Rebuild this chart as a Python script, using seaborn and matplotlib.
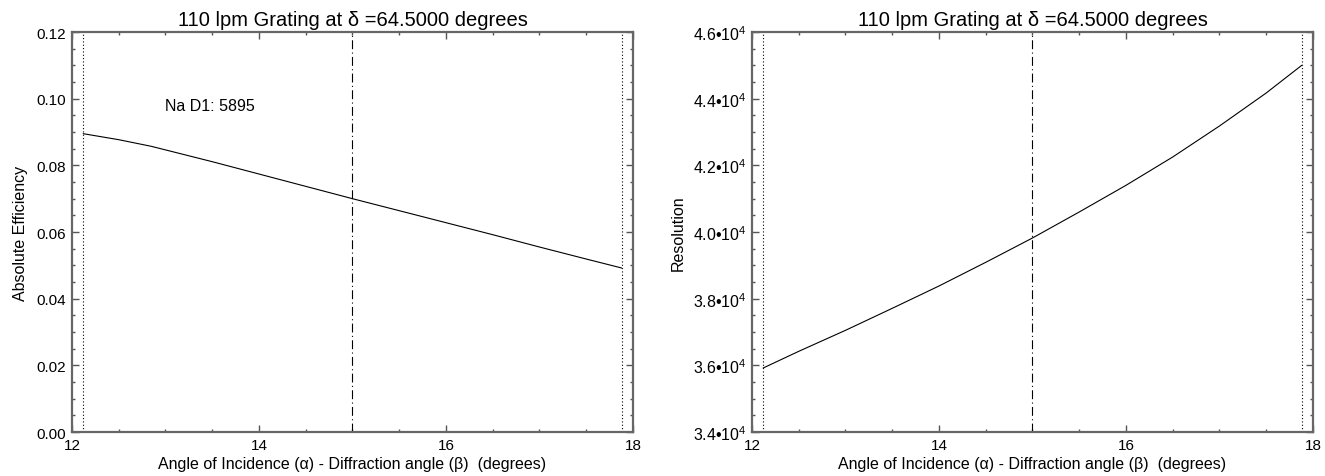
import numpy as np
import pandas as pd
import matplotlib
matplotlib.use("Agg")
import matplotlib.pyplot as plt
import seaborn as sns
from matplotlib.ticker import MultipleLocator, FuncFormatter

# Values
eff_angle = [12.12, 12.5, 12.85, 13.5, 14.0, 14.5, 15.0, 15.5, 16.0, 16.5, 17.0, 17.5, 17.88]
eff_value = [0.0895, 0.0877, 0.0857, 0.0811, 0.0774, 0.0737, 0.0700,
             0.0664, 0.0628, 0.0592, 0.0555, 0.0519, 0.0492]

res_angle = [12.12, 12.5, 13.0, 13.5, 14.0, 14.5, 15.0, 15.5, 16.0, 16.5, 17.0, 17.5, 17.88]
res_value = [35920, 36420, 37050, 37710, 38380, 39090, 39820,
             40600, 41400, 42250, 43180, 44170, 45000]

limit_lines = [12.12, 17.88]
center_line = 15.0
title_text = "110 lpm Grating at δ =64.5000 degrees"
xlabel_text = "Angle of Incidence (α) - Diffraction angle (β)  (degrees)"

eff_df = pd.DataFrame({"angle": eff_angle, "eff": eff_value})
res_df = pd.DataFrame({"angle": res_angle, "res": res_value})

sns.set_style("ticks")
plt.rcParams["font.family"] = ["Liberation Sans", "DejaVu Sans"]
plt.rcParams["mathtext.fontset"] = "custom"
plt.rcParams["mathtext.rm"] = "Liberation Sans"
plt.rcParams["mathtext.it"] = "Liberation Sans"
plt.rcParams["text.color"] = "black"
plt.rcParams["axes.labelcolor"] = "black"

fig = plt.figure(figsize=(13.25, 4.77), dpi=100)
ax1 = fig.add_axes([0.0543, 0.0922, 0.4234, 0.8386])
ax2 = fig.add_axes([0.5675, 0.0922, 0.4234, 0.8386])


def style_axis(ax):
    ax.set_xlim(12, 18)
    ax.xaxis.set_major_locator(MultipleLocator(2))
    ax.xaxis.set_minor_locator(MultipleLocator(0.5))
    ax.tick_params(which="both", direction="in", top=True, right=True,
                   color="#555555", labelsize=11, labelcolor="black")
    ax.tick_params(which="major", length=5, width=1, pad=4)
    ax.tick_params(which="minor", length=2.5, width=1)
    for sp in ax.spines.values():
        sp.set_color("#666666")
        sp.set_linewidth(1.6)
    for x in limit_lines:
        ax.axvline(x, color="black", linestyle=(0, (1, 2)), linewidth=0.8)
    ax.axvline(center_line, color="black", linestyle=(0, (8, 3, 1, 3)), linewidth=0.8)
    ax.set_title(title_text, fontsize=14.5, pad=5, color="black")
    ax.set_xlabel(xlabel_text, fontsize=11.5, labelpad=3, color="black")


# Left: efficiency
sns.lineplot(data=eff_df, x="angle", y="eff", ax=ax1, color="black", linewidth=0.8)
style_axis(ax1)
ax1.set_ylim(0, 0.12)
ax1.yaxis.set_major_locator(MultipleLocator(0.02))
ax1.yaxis.set_minor_locator(MultipleLocator(0.005))
ax1.yaxis.set_major_formatter(FuncFormatter(lambda v, p: f"{v:.2f}"))
ax1.set_ylabel("Absolute Efficiency", fontsize=11.5, labelpad=6, color="black")
ax1.text(13.0, 0.0966, "Na D1: 5895", fontsize=11.5, color="black")

# Right: resolution
sns.lineplot(data=res_df, x="angle", y="res", ax=ax2, color="black", linewidth=0.8)
style_axis(ax2)
ax2.set_ylim(34000, 46000)
ax2.yaxis.set_major_locator(MultipleLocator(2000))
ax2.yaxis.set_minor_locator(MultipleLocator(500))
ax2.yaxis.set_major_formatter(FuncFormatter(lambda v, p: f"{v/1e4:.1f}•10$^{{4}}$"))
ax2.tick_params(axis="y", labelsize=11.5)
ax2.set_ylabel("Resolution", fontsize=11.5, labelpad=5, color="black")

fig.savefig("out.png", dpi=100)
